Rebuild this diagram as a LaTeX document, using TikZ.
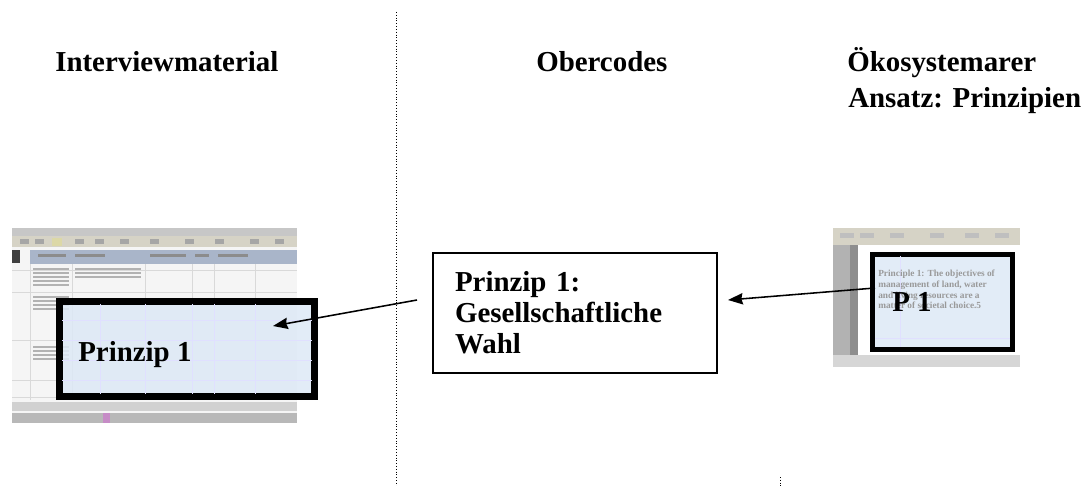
\documentclass[tikz,border=0pt]{standalone}
\usepackage{fontspec}
\setmainfont{Liberation Serif}
\usepackage{xcolor}
\usetikzlibrary{arrows.meta}

\definecolor{markblue}{HTML}{DDE9F6}
\definecolor{barblue}{HTML}{A9B5C9}
\definecolor{toolgrey}{HTML}{D6D3C6}
\definecolor{stripgrey}{HTML}{8E8E8E}

\tikzset{
  heading/.style={font=\bfseries\fontsize{20.5}{22}\selectfont,inner sep=0pt,anchor=base west},
  codebox/.style={draw,line width=1pt,align=left,text width=170.2pt,inner xsep=15.6pt,
    minimum width=201.4pt,minimum height=85.1pt,font=\bfseries\fontsize{20.5}{22}\selectfont},
  markbox/.style={draw,fill=markblue,fill opacity=0.85},
  fakeline/.style={fill=black!30},
  divider/.style={line width=0.7pt,dash pattern=on 0.7pt off 1.3pt},
  link/.style={->,line width=1.1pt}
}

\begin{document}
\begin{tikzpicture}[x=0.7093pt,y=-0.7093pt,>={Stealth[length=10.5pt,width=8pt,inset=1pt]}]
    \useasboundingbox (0,0) rectangle (1085,486);

    % column dividers
    \draw[divider] (396,12) -- (396,486);
    \draw[divider] (780,477) -- (780,486);

    % headings
    \node[heading] (ttlInterview) at (55,72) {Interviewmaterial};
    \node[heading] (ttlObercodes) at (536,72) {Obercodes};
    \node[heading] (ttlOeko) at (847,72) {Ökosystemarer};
    \node[heading] (ttlAnsatz) at (848,108) {Ansatz: Prinzipien};

    % left screenshot (spreadsheet)
    \fill[black!4] (12,228) rectangle (297,423);
    \fill[black!22] (12,228) rectangle (297,236);
    \fill[toolgrey] (12,236) rectangle (297,247);
    \fill[yellow!60!black!40] (52,238) rectangle (62,246);
    \foreach \x in {20,35,75,95,120,150,185,215,250,275}
        \fill[black!35] (\x,239) rectangle ++(9,5);
    \fill[black!75] (12,250) rectangle (20,263);
    \fill[barblue] (30,250) rectangle (297,264);
    \foreach \x/\w in {38/28,75/30,150/36,195/14,218/30}
        \fill[black!45] (\x,254) rectangle ++(\w,3);
    \foreach \y in {270,292,340,380,397}
        \draw[black!15] (12,\y) -- (297,\y);
    \foreach \x in {30,72,145,192,214,255}
        \draw[black!15] (\x,264) -- (\x,400);
    \foreach \y in {268,272,276,280,284,296,300,304,308,346,350,354,358}
        \fill[fakeline] (33,\y) rectangle ++(36,1.6);
    \foreach \y in {268,272,276}
        \fill[fakeline] (75,\y) rectangle ++(66,1.6);
    \fill[black!18] (12,402) rectangle (297,411);
    \fill[black!28] (12,413) rectangle (297,423);
    \fill[violet!45] (103,413) rectangle (110,423);

    \node[markbox,line width=4.7pt,minimum width=180.9pt,minimum height=67.4pt]
        (markLeft) at (187.25,349) {};
    \foreach \x in {100,145,192,214,255}
        \draw[blue!12] (\x,304) -- (\x,394);
    \foreach \y in {320,340,360,380}
        \draw[blue!12] (62,\y) -- (312,\y);
    \node[heading] (lblLeft) at (78,362) {Prinzip 1};

    % centre box
    \node[codebox] (codeBox) at (575,313) {Prinzip 1:\\Gesellschaftliche\\Wahl};

    % right screenshot (document)
    \fill[toolgrey] (833,228) rectangle (1020,245);
    \foreach \x in {840,860,890,930,965,995}
        \fill[black!25] (\x,233) rectangle ++(14,5);
    \fill[black!30] (833,245) rectangle (850,355);
    \fill[stripgrey] (850,245) rectangle (858,355);
    \fill[white] (858,245) rectangle (1020,355);
    \fill[black!16] (833,355) rectangle (1020,367);
    \node[markbox,line width=3.6pt,minimum width=99.3pt,minimum height=67.4pt]
        (markRight) at (942.5,302) {};
    \draw[blue!12] (900,256) -- (900,347);
    \draw[blue!12] (875,338) -- (1010,338);
    \node[text=black!40,font=\bfseries\fontsize{6.6}{7.6}\selectfont,align=left,anchor=north west,
        inner sep=0pt] (quoteRight) at (878,270)
        {Principle 1: The objectives of\\management of land, water\\and living resources are a\\matter of societal choice.5};
    \node[heading] (lblRight) at (892,312) {P 1};

    % links
    \coordinate (linkLeftFrom) at (417,300);
    \coordinate (linkLeftTo) at (273,326);
    \coordinate (linkRightFrom) at (875,288);
    \coordinate (linkRightTo) at (728,300);
    \draw[link] (linkLeftFrom) -- (linkLeftTo);
    \draw[link] (linkRightFrom) -- (linkRightTo);
\end{tikzpicture}
\end{document}
